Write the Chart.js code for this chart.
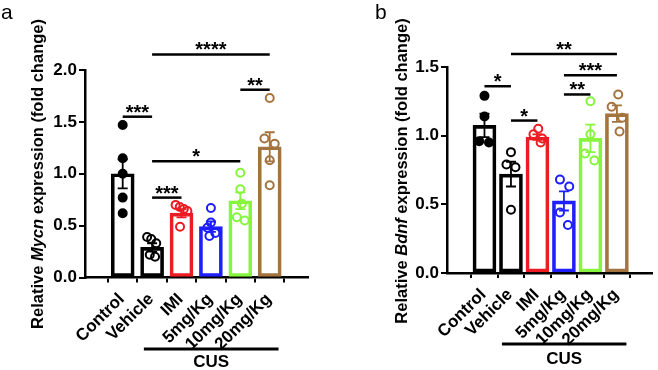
<!DOCTYPE html>
<html lang="en">
<head>
    <meta charset="UTF-8">
    <title>Mycn / Bdnf expression</title>
    <script src="https://cdn.jsdelivr.net/npm/chart.js"></script>
    <style>
        body { margin: 0; background: #fff; }
        .wrap { position: relative; width: 658px; height: 370px; }
        .panel { position: absolute; top: 0; width: 329px; height: 370px; }
        #panelA { left: 0; }
        #panelB { left: 329px; }
    </style>
</head>
<body>
    <div class="wrap">
        <div class="panel" id="panelA"><canvas id="chartA"></canvas></div>
        <div class="panel" id="panelB"><canvas id="chartB"></canvas></div>
    </div>

    <script>
        const groups = ['Control', 'Vehicle', 'IMI', '5mg/Kg', '10mg/Kg', '20mg/Kg'];
        const groupColors = ['#000000', '#000000', '#ec1c24', '#1e1eff', '#86f53c', '#a4743f'];

        // panel a - Mycn
        const mycnMean = [1.00, 0.29, 0.62, 0.49, 0.74, 1.26];
        const mycnSem = [0.14, 0.04, 0.04, 0.05, 0.08, 0.14];
        const mycnPoints = [
            [1.47, 1.15, 1.00, 0.77, 0.62],
            [0.39, 0.37, 0.33, 0.22, 0.20],
            [0.70, 0.68, 0.66, 0.64, 0.49],
            [0.67, 0.53, 0.48, 0.43, 0.40],
            [1.01, 0.85, 0.71, 0.58, 0.55],
            [1.73, 1.34, 1.29, 1.13, 0.89]
        ];
        const mycnJitter = [
            [0, 0, 0, 0, 0],
            [-0.17, -0.03, 0.14, -0.08, 0.1],
            [-0.2, -0.06, 0.08, 0.2, -0.05],
            [0, 0, -0.12, 0.15, -0.05],
            [0, 0, 0.05, -0.12, 0.15],
            [0, -0.18, 0.17, 0, 0]
        ];
        const mycnSigFrom = [0, 1, 1, 1, 4];
        const mycnSigTo = [1, 2, 4, 5, 5];
        const mycnSigY = [1.55, 0.77, 1.12, 2.15, 1.81];
        const mycnSigText = ['***', '***', '*', '****', '**'];

        // panel b - Bdnf
        const bdnfMean = [1.075, 0.72, 0.99, 0.525, 0.98, 1.16];
        const bdnfSem = [0.085, 0.09, 0.02, 0.07, 0.10, 0.06];
        const bdnfPoints = [
            [1.29, 1.14, 0.96, 0.95],
            [0.88, 0.79, 0.77, 0.46],
            [1.05, 1.01, 0.98, 0.95],
            [0.68, 0.63, 0.44, 0.35],
            [1.25, 1.01, 0.87, 0.82],
            [1.30, 1.21, 1.13, 1.03]
        ];
        const bdnfJitter = [
            [0, 0, -0.2, 0.17],
            [0, -0.17, 0.17, 0],
            [0.03, -0.15, 0.18, 0.12],
            [-0.15, 0.2, -0.15, 0.15],
            [0, 0, -0.2, 0.15],
            [0.05, -0.2, 0.2, 0.1]
        ];
        const bdnfSigFrom = [0, 1, 1, 3, 3];
        const bdnfSigTo = [1, 2, 5, 5, 4];
        const bdnfSigY = [1.36, 1.11, 1.595, 1.44, 1.30];
        const bdnfSigText = ['*', '*', '**', '***', '**'];

        const FONT = '"Liberation Sans", Arial, sans-serif';

        function makePanel(id, cfg) {
            const datasets = [];

            datasets.push({
                type: 'bar',
                data: groups.map((g, i) => ({ x: i, y: cfg.mean[i] })),
                backgroundColor: 'rgba(255,255,255,0)',
                borderColor: groupColors,
                borderWidth: 3,
                borderSkipped: false,
                barThickness: 23,
                order: 10
            });

            cfg.points.forEach((vals, i) => {
                datasets.push({
                    type: 'scatter',
                    data: vals.map((v, k) => ({ x: i + cfg.jitter[i][k], y: v })),
                    pointRadius: 4,
                    pointBorderWidth: 2,
                    pointBorderColor: groupColors[i],
                    pointBackgroundColor: i === 0 ? '#000' : 'rgba(255,255,255,0)',
                    order: 1
                });
            });

            cfg.sigFrom.forEach((f, k) => {
                datasets.push({
                    type: 'line',
                    data: [{ x: f, y: cfg.sigY[k] }, { x: cfg.sigTo[k], y: cfg.sigY[k] }],
                    borderColor: '#000',
                    borderWidth: 2.5,
                    pointRadius: 0,
                    clip: false,
                    order: 0
                });
            });

            const extras = {
                id: 'extras_' + id,
                afterDatasetDraw(chart, args) {
                    if (args.index !== 0) return;
                    // error bars (mean +/- sem)
                    const ctx = chart.ctx, xs = chart.scales.x, ys = chart.scales.y;
                    ctx.save();
                    ctx.lineWidth = 1.8;
                    cfg.mean.forEach((m, i) => {
                        const x = xs.getPixelForValue(i);
                        const y1 = ys.getPixelForValue(m + cfg.sem[i]);
                        const y2 = ys.getPixelForValue(m - cfg.sem[i]);
                        ctx.strokeStyle = groupColors[i];
                        ctx.beginPath();
                        ctx.moveTo(x, y1); ctx.lineTo(x, y2);
                        ctx.moveTo(x - 5, y1); ctx.lineTo(x + 5, y1);
                        ctx.moveTo(x - 5, y2); ctx.lineTo(x + 5, y2);
                        ctx.stroke();
                    });
                    ctx.restore();
                },
                afterDraw(chart) {
                    const ctx = chart.ctx, xs = chart.scales.x, ys = chart.scales.y;
                    const area = chart.chartArea;
                    ctx.save();
                    ctx.fillStyle = '#000';

                    // rotated category labels
                    ctx.font = 'bold 17px ' + FONT;
                    ctx.textAlign = 'right';
                    ctx.textBaseline = 'middle';
                    groups.forEach((g, i) => {
                        ctx.save();
                        ctx.translate(xs.getPixelForValue(i) - 1, area.bottom + 19);
                        ctx.rotate(-Math.PI / 4);
                        ctx.fillText(g, 0, 0);
                        ctx.restore();
                    });

                    // stars
                    ctx.font = 'bold 20px ' + FONT;
                    ctx.textAlign = 'center';
                    ctx.textBaseline = 'alphabetic';
                    cfg.sigFrom.forEach((f, k) => {
                        const x = (xs.getPixelForValue(f) + xs.getPixelForValue(cfg.sigTo[k])) / 2;
                        const y = ys.getPixelForValue(cfg.sigY[k]);
                        ctx.fillText(cfg.sigText[k], x, y + 2);
                    });

                    // CUS group line
                    const cx1 = xs.getPixelForValue(cfg.cusFrom), cx2 = xs.getPixelForValue(cfg.cusTo);
                    ctx.strokeStyle = '#000';
                    ctx.lineWidth = 3;
                    ctx.beginPath();
                    ctx.moveTo(cx1, cfg.cusLineY);
                    ctx.lineTo(cx2, cfg.cusLineY);
                    ctx.stroke();
                    ctx.font = 'bold 17px ' + FONT;
                    ctx.fillText('CUS', (cx1 + cx2) / 2, cfg.cusTextY);

                    // y title with italic gene name
                    const parts = [['Relative ', 'bold'], [cfg.gene, 'italic bold'], [' expression (fold change)', 'bold']];
                    const size = '16.5px ';
                    let total = 0;
                    parts.forEach(p => { ctx.font = p[1] + ' ' + size + FONT; total += ctx.measureText(p[0]).width; });
                    ctx.translate(cfg.titleX, cfg.titleY);
                    ctx.rotate(-Math.PI / 2);
                    ctx.textAlign = 'left';
                    ctx.textBaseline = 'middle';
                    let pos = -total / 2;
                    parts.forEach(p => {
                        ctx.font = p[1] + ' ' + size + FONT;
                        ctx.fillText(p[0], pos, 0);
                        pos += ctx.measureText(p[0]).width;
                    });
                    ctx.restore();

                    // panel letter
                    ctx.save();
                    ctx.font = '21px ' + FONT;
                    ctx.fillStyle = '#000';
                    ctx.textBaseline = 'alphabetic';
                    ctx.fillText(cfg.letter, cfg.letterX, 19);
                    ctx.restore();
                }
            };

            return new Chart(document.getElementById(id), {
                data: { datasets: datasets },
                options: {
                    responsive: true,
                    maintainAspectRatio: false,
                    animation: false,
                    layout: { padding: { top: cfg.top, right: 329 - cfg.right, left: 0, bottom: 0 } },
                    plugins: { legend: { display: false }, tooltip: { enabled: false } },
                    scales: {
                        x: {
                            type: 'linear',
                            min: cfg.xMin,
                            max: cfg.xMax,
                            afterBuildTicks: axis => { axis.ticks = groups.map((g, i) => ({ value: i })); },
                            afterFit: s => { s.height = 370 - cfg.bottom; },
                            ticks: { display: false },
                            grid: { drawOnChartArea: false, color: '#000', lineWidth: 2, tickLength: 5 },
                            border: { color: '#000', width: 2.5 }
                        },
                        y: {
                            min: 0,
                            max: cfg.yMax,
                            afterFit: s => { s.width = cfg.left; },
                            ticks: {
                                stepSize: 0.5,
                                padding: 2,
                                color: '#000',
                                font: { family: FONT, size: 17, weight: 'bold' },
                                callback: v => v.toFixed(1)
                            },
                            grid: { drawOnChartArea: false, color: '#000', lineWidth: 2, tickLength: 6 },
                            border: { color: '#000', width: 2.5 }
                        }
                    }
                },
                plugins: [extras]
            });
        }

        makePanel('chartA', {
            mean: mycnMean, sem: mycnSem, points: mycnPoints, jitter: mycnJitter,
            sigFrom: mycnSigFrom, sigTo: mycnSigTo, sigY: mycnSigY, sigText: mycnSigText,
            yMax: 2.0, xMin: -0.65, xMax: 5.67,
            left: 85, right: 308, top: 70, bottom: 277.5,
            cusFrom: 0.72, cusTo: 5.3, cusLineY: 349, cusTextY: 367,
            gene: 'Mycn', titleX: 38, titleY: 174, letter: 'a', letterX: 1
        });

        makePanel('chartB', {
            mean: bdnfMean, sem: bdnfSem, points: bdnfPoints, jitter: bdnfJitter,
            sigFrom: bdnfSigFrom, sigTo: bdnfSigTo, sigY: bdnfSigY, sigText: bdnfSigText,
            yMax: 1.5, xMin: -0.77, xMax: 5.68,
            left: 118, right: 326, top: 67, bottom: 273,
            cusFrom: 0.66, cusTo: 5.36, cusLineY: 344, cusTextY: 364,
            gene: 'Bdnf', titleX: 73, titleY: 171, letter: 'b', letterX: 46
        });
    </script>
</body>
</html>
